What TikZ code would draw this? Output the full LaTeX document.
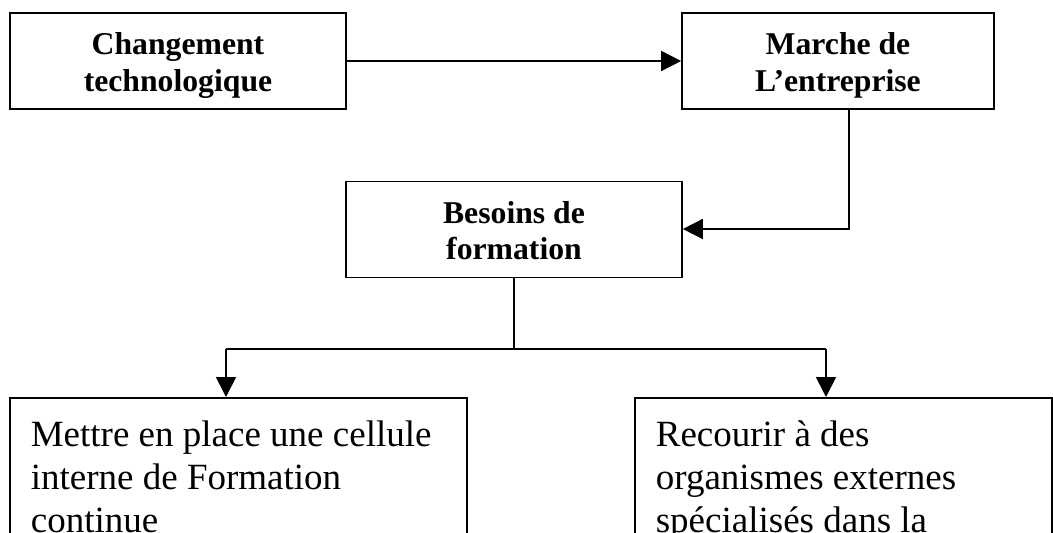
\documentclass[tikz,border=0pt]{standalone}
\usepackage{fontspec}
\setmainfont{Liberation Serif}
\usetikzlibrary{arrows.meta}
\tikzset{
  topbox/.style={draw, line width=1.7pt, minimum width=336pt, minimum height=96pt,
    align=center, inner sep=0pt, text height=60.5pt, text depth=0pt,
    font=\bfseries\fontsize{31.7}{36.5}\selectfont},
  lowbox/.style={draw, line width=1.7pt, anchor=north west, align=flush left,
    inner xsep=21pt, inner ysep=23pt, text depth=160pt,
    font=\fontsize{37}{43}\selectfont},
  link/.style={line width=1.7pt},
  arr/.style={link, -{Triangle[length=20pt,width=20pt]}}
}
\begin{document}
\begin{tikzpicture}[x=1pt,y=-1pt]
\useasboundingbox (0,0) rectangle (1053,533);
\clip (0,0) rectangle (1053,533);
\node[topbox] (chg) at (178,61) {Changement\\technologique};
\node[topbox, minimum width=312pt] (mar) at (838,61) {Marche de\\L’entreprise};
\node[topbox] (bes) at (514,229.5) {Besoins de\\formation};
\node[lowbox, text width=415pt] (int) at (9,397) {Mettre en place une cellule\\interne de Formation\\continue};
\node[lowbox, text width=375pt] (ext) at (634,397) {Recourir à des\\organismes externes\\spécialisés dans la};
\coordinate (c1) at (849,229);
\coordinate (jl) at (226,349);
\coordinate (jr) at (826,349);
\draw[arr] (chg.east) -- (mar.west);
\draw[arr] (mar.south -| c1) -- (c1) -- (bes.east |- c1);
\draw[link] (bes.south) -- (bes.south |- jl);
\draw[link] (jl) -- (jr);
\draw[arr] (jl) -- (int.north -| jl);
\draw[arr] (jr) -- (ext.north -| jr);
\end{tikzpicture}
\end{document}
